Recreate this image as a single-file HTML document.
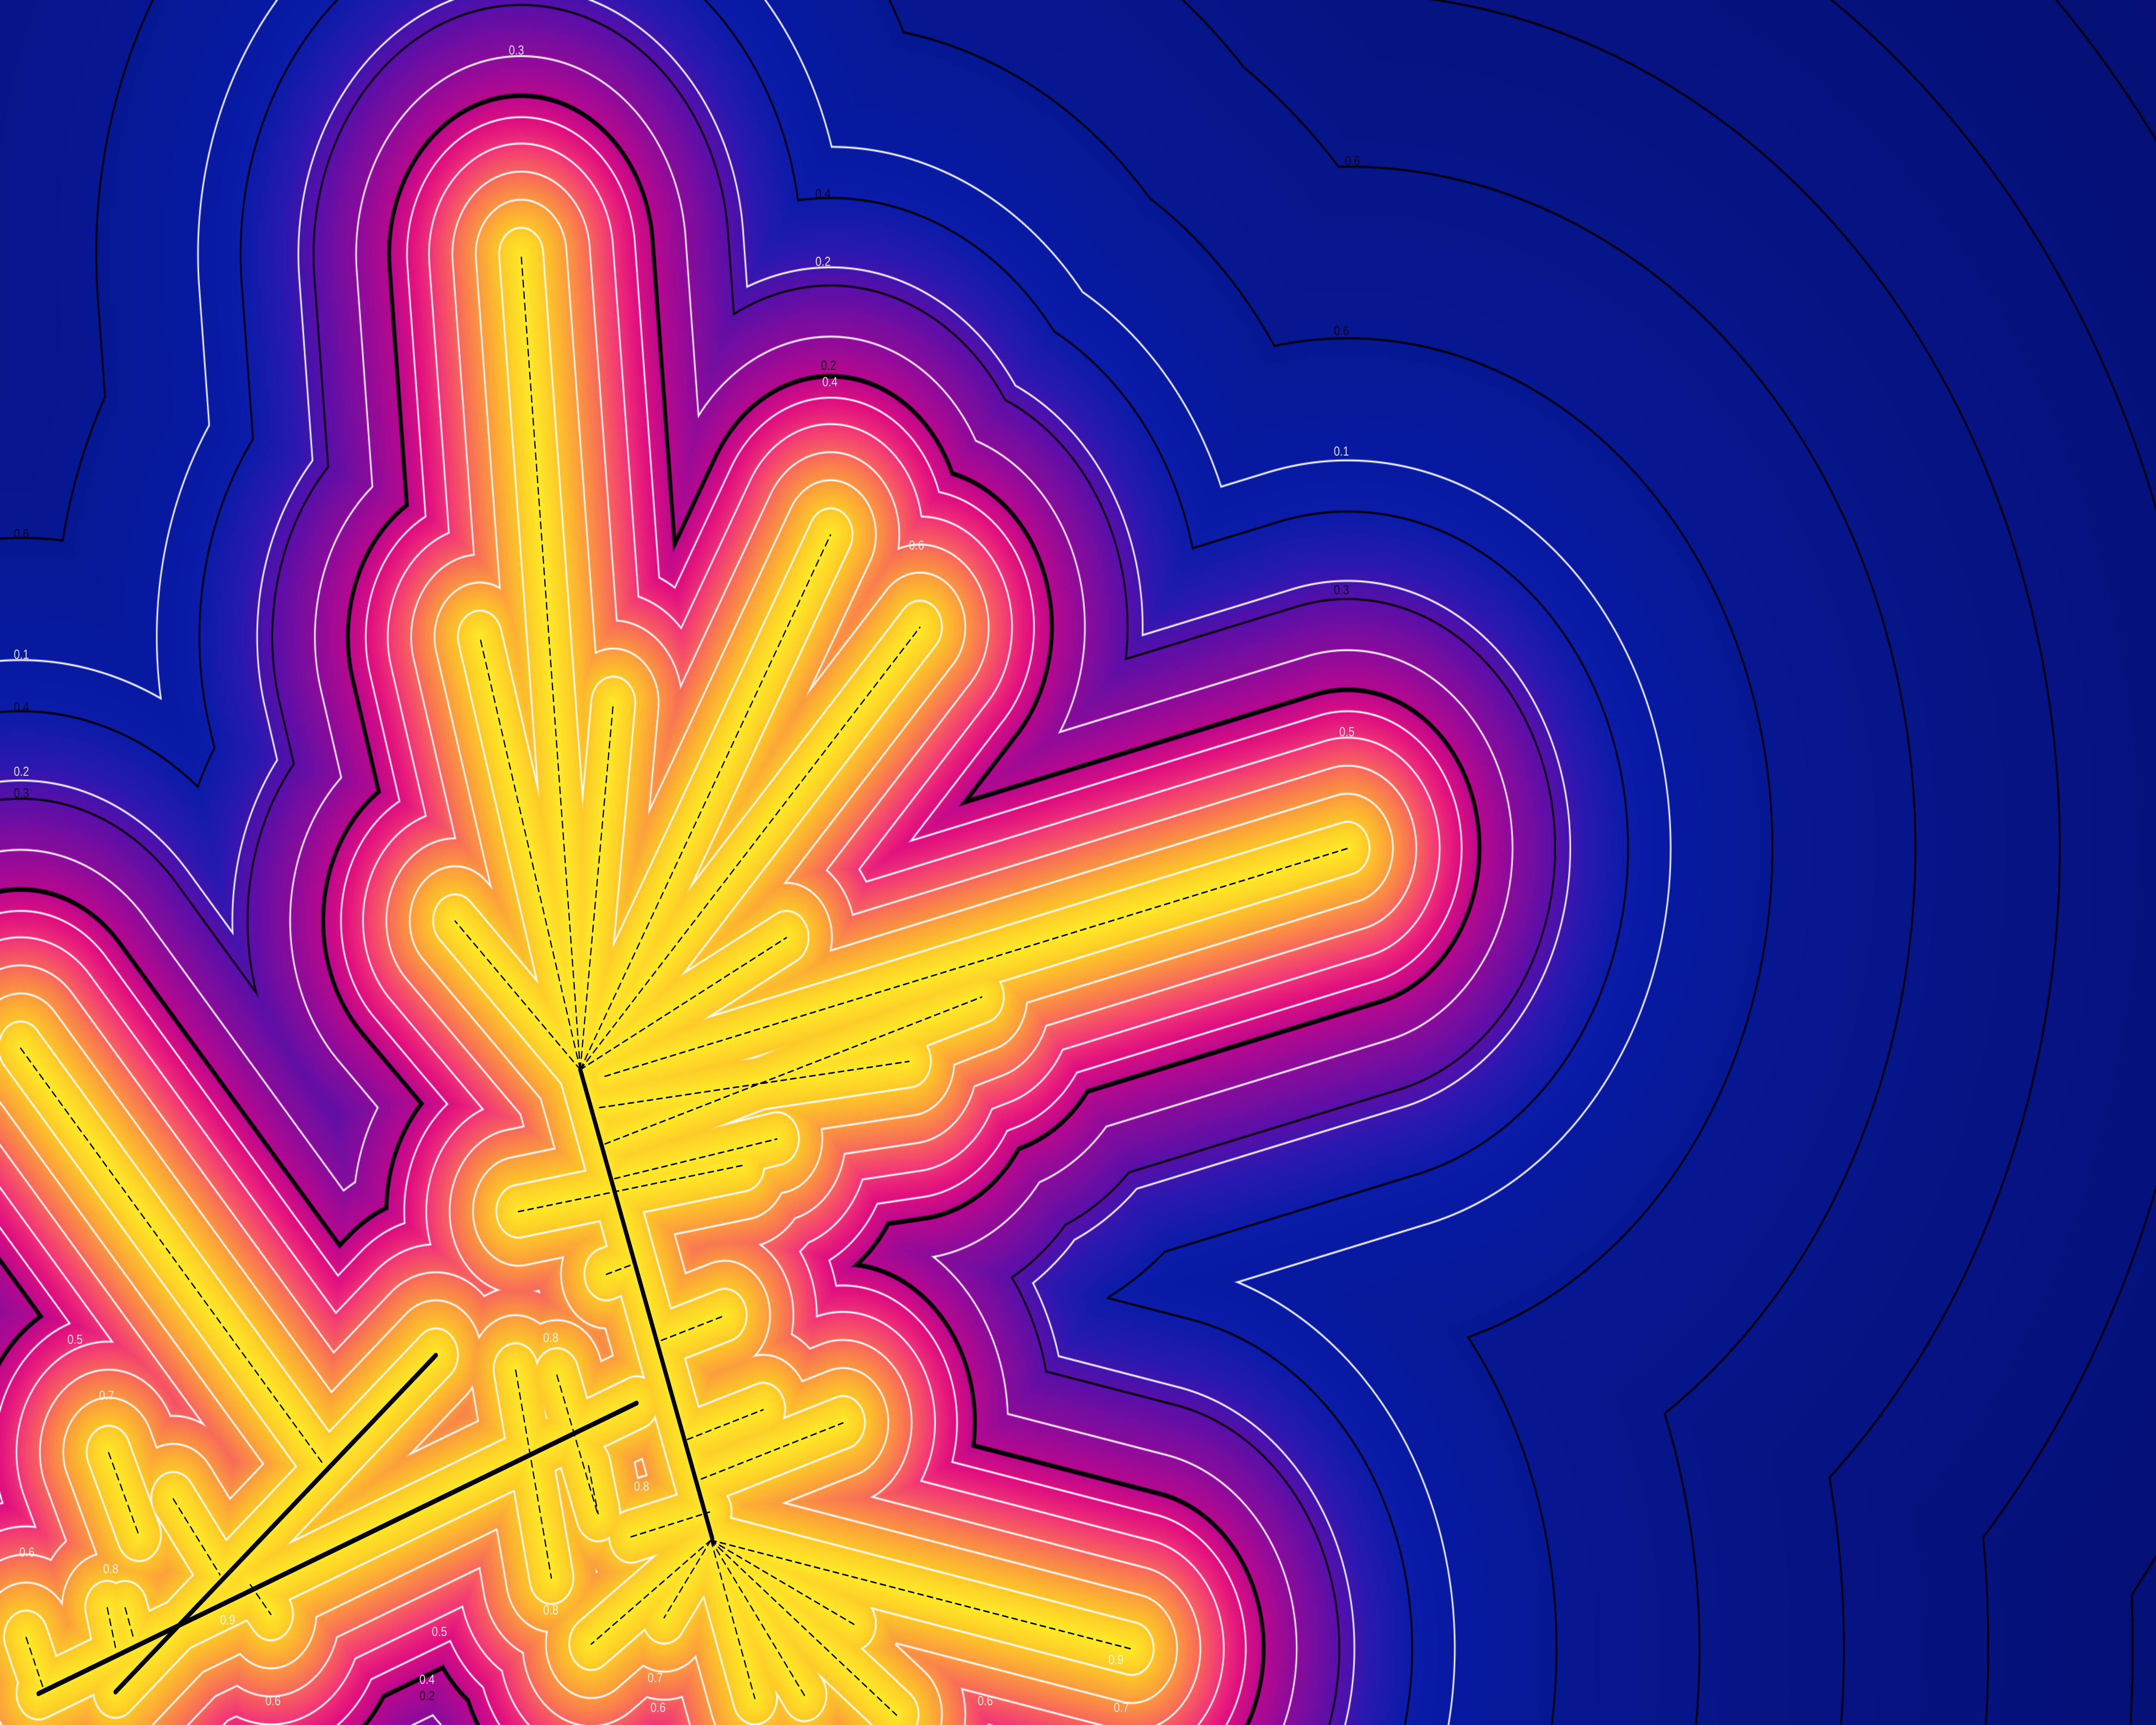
<!DOCTYPE html>
<html><head><meta charset="utf-8"><title>Distance field contours</title>
<style>
html,body{margin:0;padding:0;background:#05106e;overflow:hidden;width:100%;height:100%}
#wrap{position:fixed;left:0;top:0;width:100vw;height:100vh;overflow:hidden}
#field{position:absolute;left:0;top:0;width:100%;height:100%;display:block}
#overlay{position:absolute;left:0;top:0;width:100%;height:100%;display:block}
.lbl{font-family:"Liberation Sans",sans-serif;font-size:8px;fill:#fff;opacity:.85}
.lblk{font-family:"Liberation Sans",sans-serif;font-size:8px;fill:#000;opacity:.85}
</style></head>
<body>
<div id="wrap">
<canvas id="field" width="3000" height="2000"></canvas>
<svg id="overlay" viewBox="0 0 1568 1045" preserveAspectRatio="none">
<g id="segs"></g>
<g id="labels">
<text class="lbl" x="370" y="33">0.3</text>
<text class="lblk" x="593" y="120">0.4</text>
<text class="lbl" x="593" y="161">0.2</text>
<text class="lblk" x="597" y="224">0.2</text>
<text class="lbl" x="598" y="234">0.4</text>
<text class="lblk" x="978" y="100">0.6</text>
<text class="lblk" x="970" y="203">0.6</text>
<text class="lbl" x="970" y="276">0.1</text>
<text class="lblk" x="970" y="360">0.3</text>
<text class="lbl" x="974" y="446">0.5</text>
<text class="lbl" x="661" y="333">0.6</text>
<text class="lblk" x="10" y="326">0.6</text>
<text class="lbl" x="10" y="399">0.1</text>
<text class="lblk" x="10" y="431">0.4</text>
<text class="lbl" x="10" y="470">0.2</text>
<text class="lblk" x="10" y="483">0.3</text>
<text class="lbl" x="49" y="814">0.5</text>
<text class="lbl" x="72" y="848">0.7</text>
<text class="lbl" x="14" y="943">0.6</text>
<text class="lbl" x="75" y="953">0.8</text>
<text class="lbl" x="160" y="984">0.9</text>
<text class="lbl" x="314" y="991">0.5</text>
<text class="lbl" x="305" y="1020">0.4</text>
<text class="lblk" x="305" y="1030">0.2</text>
<text class="lbl" x="193" y="1033">0.6</text>
<text class="lbl" x="395" y="813">0.8</text>
<text class="lbl" x="461" y="903">0.8</text>
<text class="lbl" x="395" y="978">0.8</text>
<text class="lbl" x="471" y="1019">0.7</text>
<text class="lbl" x="473" y="1037">0.6</text>
<text class="lbl" x="711" y="1033">0.6</text>
<text class="lbl" x="810" y="1037">0.7</text>
<text class="lbl" x="806" y="1008">0.9</text>
</g>
</svg>
</div>
<script>
// skeleton segments (display coords, 1568x1045 space)
const segX1=[422,422,422,422,422,422,422,440,436,447,440,377,441,481,500,510,459,375,405,428,15,79,126,19,78,91,182,517,517,517,517,517,517,517,28,84,422];
const segY1=[648,648,648,648,648,648,648,652,671,714,693,734,772,812,872,896,931,830,833,888,635,880,908,992,974,974,960,933,933,933,933,933,933,933,1026,1025,648];
const segX2=[379,349,446,604,669,331,572,980,661,565,714,540,460,527,555,613,516,401,435,435,236,101,160,32,84,97,197,430,483,549,585,652,621,823,463,317,518];
const segY2=[154,386,426,324,380,558,568,514,643,690,604,706,766,797,854,862,916,956,918,917,888,930,954,1024,998,992,978,996,980,1029,1027,1039,984,999,850,821,932];
const segSolid=[0,0,0,0,0,0,0,0,0,0,0,0,0,0,0,0,0,0,0,0,0,0,0,0,0,0,0,0,0,0,0,0,0,0,1,1,1];
// contour levels (distance units)
const whiteLevels=[16,33,50,67,83,120,162,235];
const blackLevels=[151,204,309,413,518,623,728,833,938,1043];
const boldLevels=[96];
// colour stops by distance
const stopD=[0,16,32,48,64,80,97,120,150,172,205,240,320,450,700,1100];
const stopC=[[255,234,40],[253,200,40],[251,156,62],[248,108,88],[242,58,117],[224,16,127],[182,8,143],[138,12,154],[90,15,168],[42,24,176],[10,28,168],[7,25,160],[6,23,144],[6,20,133],[5,16,120],[4,13,108]];

(function(){
  const cv=document.getElementById('field');
  const ctx=cv.getContext('2d');
  const W=cv.width,H=cv.height,S=1568/W;
  const img=ctx.createImageData(W,H),D=img.data;
  const n=segX1.length;
  const dx=[],dy=[],l2=[];
  for(let i=0;i<n;i++){dx.push(segX2[i]-segX1[i]);dy.push(segY2[i]-segY1[i]);l2.push(dx[i]*dx[i]+dy[i]*dy[i]||1);}
  const LUT=new Float32Array(2401*3);
  for(let k=0;k<=2400;k++){
    const d=k*0.5;let j=0;
    while(j<stopD.length-2&&d>stopD[j+1])j++;
    let t=(d-stopD[j])/(stopD[j+1]-stopD[j]);t=Math.max(0,Math.min(1,t));
    for(let c=0;c<3;c++)LUT[k*3+c]=stopC[j][c]+(stopC[j+1][c]-stopC[j][c])*t;
  }
  const hw=0.55,hb=0.6,hB=1.4;
  for(let y=0;y<H;y++){
    const py=(y+0.5)*S;
    for(let x=0;x<W;x++){
      const px=(x+0.5)*S;
      let m=1e12;
      for(let i=0;i<n;i++){
        const ax=px-segX1[i],ay=py-segY1[i];
        let t=(ax*dx[i]+ay*dy[i])/l2[i];
        if(t<0)t=0;else if(t>1)t=1;
        const ex=ax-t*dx[i],ey=ay-t*dy[i];
        const q=ex*ex+ey*ey;if(q<m)m=q;
      }
      const d=Math.sqrt(m);
      let k=Math.min(2400,Math.round(d*2));
      let r=LUT[k*3],g=LUT[k*3+1],b=LUT[k*3+2];
      let aw=0;
      for(let j=0;j<whiteLevels.length;j++){const e=Math.abs(d-whiteLevels[j]);const a=Math.max(0,Math.min(1,(hw-e)/S+0.5));if(a>aw)aw=a;}
      if(aw>0){r+=(255-r)*aw;g+=(255-g)*aw;b+=(255-b)*aw;}
      let ab=0;
      for(let j=0;j<blackLevels.length;j++){const e=Math.abs(d-blackLevels[j]);const a=Math.max(0,Math.min(1,(hb-e)/S+0.5));if(a>ab)ab=a;}
      for(let j=0;j<boldLevels.length;j++){const e=Math.abs(d-boldLevels[j]);const a=Math.max(0,Math.min(1,(hB-e)/S+0.5));if(a>ab)ab=a;}
      if(ab>0){r*=1-ab;g*=1-ab;b*=1-ab;}
      const o=(y*W+x)*4;
      D[o]=r;D[o+1]=g;D[o+2]=b;D[o+3]=255;
    }
  }
  ctx.putImageData(img,0,0);

  const g=document.getElementById('segs');
  const NS='http://www.w3.org/2000/svg';
  for(let i=0;i<n;i++){
    const ln=document.createElementNS(NS,'line');
    ln.setAttribute('x1',segX1[i]);ln.setAttribute('y1',segY1[i]);
    ln.setAttribute('x2',segX2[i]);ln.setAttribute('y2',segY2[i]);
    ln.setAttribute('stroke','#000');
    ln.setAttribute('stroke-linecap','round');
    if(segSolid[i]){
      ln.setAttribute('stroke-width','3');
      
    }else{
      ln.setAttribute('stroke-width','0.9');
      ln.setAttribute('stroke-dasharray','4 3');
      
    }
    
    g.appendChild(ln);
  }
})();
</script>
</body></html>
